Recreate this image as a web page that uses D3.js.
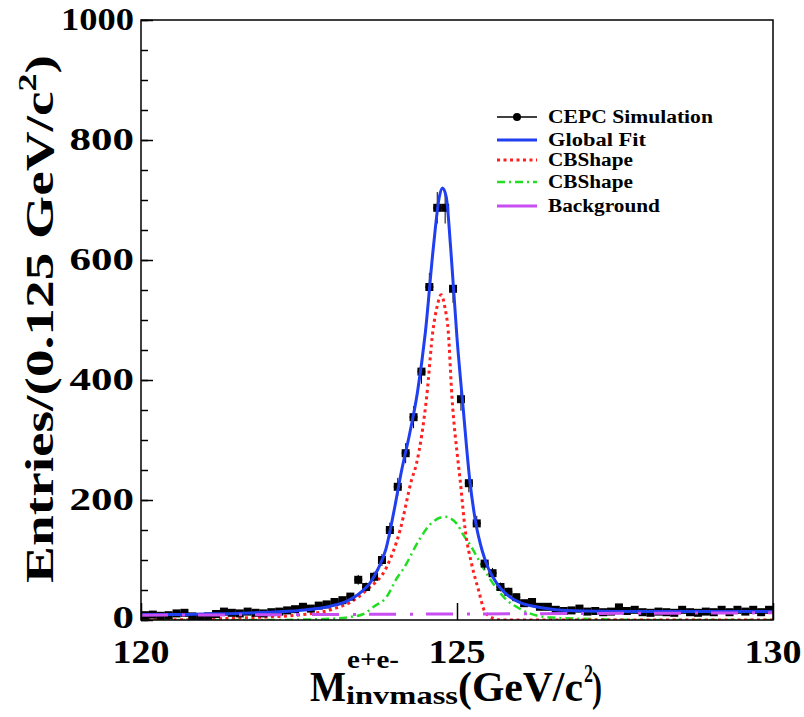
<!DOCTYPE html>
<html lang="en">
<head>
<meta charset="utf-8">
<title>CEPC e+e- invariant mass fit</title>
<script src="https://d3js.org/d3.v7.min.js"></script>
<style>
  body { margin: 0; background: #fff; }
  text { font-family: "Liberation Serif", "Times New Roman", Times, serif; font-weight: bold; fill: #000; }
</style>
</head>
<body>
<div id="chart"></div>
<script>
// binned simulation, 80 bins of 0.125 GeV starting at 120
const binStart = 120;
const binWidth = 0.125;
const counts = [
  8, 9, 7, 8, 11, 12, 6, 3, 6, 10,
  14, 12, 11, 14, 12, 11, 13, 14, 16, 18,
  22, 19, 24, 26, 30, 33, 39, 67, 55, 72,
  100, 150, 222, 278, 338, 414, 555, 687, 687, 552,
  368, 228, 161, 94, 78, 55, 47, 38, 28, 30,
  22, 22, 17, 15, 16, 19, 14, 15, 13, 14,
  21, 15, 17, 13, 12, 14, 13, 12, 17, 13,
  12, 14, 13, 17, 13, 17, 14, 17, 13, 17
];

// fit curves
const globalMass = [120, 120.5, 121, 121.5, 122, 122.5, 123, 123.25, 123.5, 123.625, 123.75, 123.875,
  124, 124.125, 124.25, 124.375, 124.5, 124.625, 124.72, 124.77, 124.83, 124.9, 125, 125.1, 125.2,
  125.3, 125.4, 125.5, 125.625, 125.75, 125.875, 126, 126.25, 126.5, 127, 128, 129, 130];
const globalVals = [9, 9, 10, 11, 13, 16, 23, 31, 48, 62, 85, 118,
  180, 250, 310, 380, 480, 620, 705, 720, 705, 620, 470, 350, 235,
  160, 115, 85, 62, 46, 36, 29, 22, 18, 15, 14, 14, 14];

const cb1Mass = [120, 121, 121.4, 122, 122.46, 123, 123.41, 123.57, 123.89, 124.1, 124.28, 124.36,
  124.52, 124.62, 124.68, 124.75, 124.81, 124.86, 124.92, 125.02, 125.05, 125.13, 125.23, 125.34,
  125.44, 125.57, 125.7, 126, 130];
const cb1Vals = [0, 1, 3, 5, 8, 17, 36, 50, 89, 150, 233, 261,
  372, 483, 520, 542, 520, 483, 372, 261, 233, 150, 94, 50,
  14, 3, 0, 0, 0];

const cb2Mass = [120, 122, 123, 123.31, 123.52, 123.68, 123.89, 124.05, 124.15, 124.41, 124.6, 124.81,
  125, 125.1, 125.21, 125.36, 125.5, 125.63, 125.8, 125.94, 126.15, 126.5, 127, 128, 130];
const cb2Vals = [0, 0, 2, 5, 10, 22, 39, 70, 85, 135, 162, 172,
  160, 142, 125, 97, 72, 52, 32, 22, 11, 4, 2, 0, 0];

const bkgMass = [120, 130];
const bkgVals = [8, 12];

const yMajor = [0, 200, 400, 600, 800, 1000];
const xMajor = [120, 125, 130];

const legendLabels = ["CEPC Simulation", "Global Fit", "CBShape", "CBShape", "Background"];

// layout
const W = 804, H = 717;
const margin = { left: 141, top: 20, right: 31, bottom: 97 };
const pw = W - margin.left - margin.right;
const ph = H - margin.top - margin.bottom;

const svg = d3.select("#chart").append("svg")
  .attr("width", W).attr("height", H);

const x = d3.scaleLinear().domain([120, 130]).range([0, pw]);
const y = d3.scaleLinear().domain([0, 1000]).range([ph, 0]);

const g = svg.append("g").attr("transform", `translate(${margin.left},${margin.top})`);

svg.append("defs").append("clipPath").attr("id", "plotclip")
  .append("rect").attr("x", 0).attr("y", -2).attr("width", pw).attr("height", ph + 2);

// text squeezed/stretched to a measured width
function fitText(parent, px, py, str, size, width, anchor) {
  const grp = parent.append("g");
  const t = grp.append("text")
    .attr("font-size", size)
    .attr("text-anchor", anchor || "start")
    .text(str);
  const len = t.node().getComputedTextLength();
  grp.attr("transform", `translate(${px},${py}) scale(${width / len},1)`);
  return t;
}

// curves
const plot = g.append("g").attr("clip-path", "url(#plotclip)");
const line = d3.line().x(d => x(d[0])).y(d => y(d[1])).curve(d3.curveMonotoneX);

plot.append("path")
  .datum(d3.zip(cb2Mass, cb2Vals))
  .attr("d", line)
  .attr("fill", "none").attr("stroke", "#22dd22").attr("stroke-width", 2.5)
  .attr("stroke-dasharray", "8,4,2,4");

plot.append("path")
  .datum(d3.zip(cb1Mass, cb1Vals))
  .attr("d", line)
  .attr("fill", "none").attr("stroke", "#ff2020").attr("stroke-width", 3)
  .attr("stroke-dasharray", "3,3.5");

// data points with error bars
const pts = counts.map((c, i) => ({ m: binStart + (i + 0.5) * binWidth, n: c }));
const bw = x(binStart + binWidth) - x(binStart);
const pg = plot.append("g");
pg.selectAll("line.h").data(pts).enter().append("line")
  .attr("x1", d => x(d.m) - bw / 2).attr("x2", d => x(d.m) + bw / 2)
  .attr("y1", d => y(d.n)).attr("y2", d => y(d.n))
  .attr("stroke", "#000").attr("stroke-width", 2);
pg.selectAll("line.v").data(pts).enter().append("line")
  .attr("x1", d => x(d.m)).attr("x2", d => x(d.m))
  .attr("y1", d => y(d.n + Math.sqrt(d.n))).attr("y2", d => y(d.n - Math.sqrt(d.n)))
  .attr("stroke", "#000").attr("stroke-width", 1);
pg.selectAll("rect").data(pts).enter().append("rect")
  .attr("x", d => x(d.m) - 4).attr("y", d => y(d.n) - 4)
  .attr("width", 8).attr("height", 8).attr("fill", "#000");

plot.append("path")
  .datum(d3.zip(globalMass, globalVals))
  .attr("d", line)
  .attr("fill", "none").attr("stroke", "#1f3ff0").attr("stroke-width", 3);

plot.append("path")
  .datum(d3.zip(bkgMass, bkgVals))
  .attr("d", line)
  .attr("fill", "none").attr("stroke", "#c84ef2").attr("stroke-width", 3)
  .attr("stroke-dasharray", "27,14,3,13");

// frame and ticks
g.append("rect").attr("width", pw).attr("height", ph)
  .attr("fill", "none").attr("stroke", "#000").attr("stroke-width", 1.5);

g.append("g").call(d3.axisLeft(y).tickValues(d3.range(0, 1001, 50)).tickSize(-7).tickFormat(""))
  .call(a => a.select(".domain").remove());
g.append("g").call(d3.axisLeft(y).tickValues(yMajor).tickSize(-12).tickFormat(""))
  .call(a => a.select(".domain").remove());
g.append("g").attr("transform", `translate(0,${ph})`)
  .call(d3.axisBottom(x).tickValues(xMajor).tickSize(-17).tickFormat(""))
  .call(a => a.select(".domain").remove());
g.selectAll(".tick line").attr("stroke-width", 1.5);

// tick labels
yMajor.forEach(v => {
  const s = String(v);
  const dy = v === 0 ? 8 : 10;
  fitText(g, -7, y(v) + dy, s, 31, s.length === 4 ? 73 : s.length * 21.5, "end");
});
xMajor.forEach(v => {
  fitText(g, x(v), ph + 43, String(v), 34, 57, "middle");
});

// axis titles
const yt = svg.append("g");
const ytText = yt.append("text").attr("font-size", 40).attr("text-anchor", "middle");
ytText.append("tspan").text("Entries/(0.125 GeV/c");
ytText.append("tspan").attr("font-size", 26).attr("dy", -17).text("2");
ytText.append("tspan").attr("dy", 17).text(")");
const ytLen = ytText.node().getComputedTextLength();
yt.attr("transform", `translate(53,319) rotate(-90) scale(${528 / ytLen},1)`);

fitText(svg, 310, 701, "M", 42, 36, "start");
fitText(svg, 347, 668, "e+e-", 25, 52, "start");
fitText(svg, 346, 704, "invmass", 26, 112, "start");
fitText(svg, 458, 701, "(GeV/c", 42, 125, "start");
fitText(svg, 584, 682, "2", 26, 9, "start");
fitText(svg, 592, 701, ")", 42, 10, "start");

// legend
const legX = 497, legLen = 40, legTextX = 548;
const legRows = [117, 140, 160, 182, 206];
const legWidths = [165, 98, 85, 85, 112];
const lg = svg.append("g");
const legStyles = [
  { c: "#000", w: 1.5, dash: null },
  { c: "#1f3ff0", w: 3, dash: null },
  { c: "#ff2020", w: 3, dash: "3,3.5" },
  { c: "#22dd22", w: 2.5, dash: "8,4,2,4" },
  { c: "#c84ef2", w: 3, dash: null }
];
legendLabels.forEach((lab, i) => {
  const ry = legRows[i];
  const st = legStyles[i];
  const ln = lg.append("line")
    .attr("x1", legX).attr("x2", legX + legLen)
    .attr("y1", ry).attr("y2", ry)
    .attr("stroke", st.c).attr("stroke-width", st.w);
  if (st.dash) ln.attr("stroke-dasharray", st.dash);
  if (i === 0) {
    lg.append("circle").attr("cx", legX + legLen / 2).attr("cy", ry)
      .attr("r", 4).attr("fill", "#000");
  }
  fitText(lg, legTextX, ry + 6, lab, 19, legWidths[i], "start");
});
</script>
</body>
</html>
